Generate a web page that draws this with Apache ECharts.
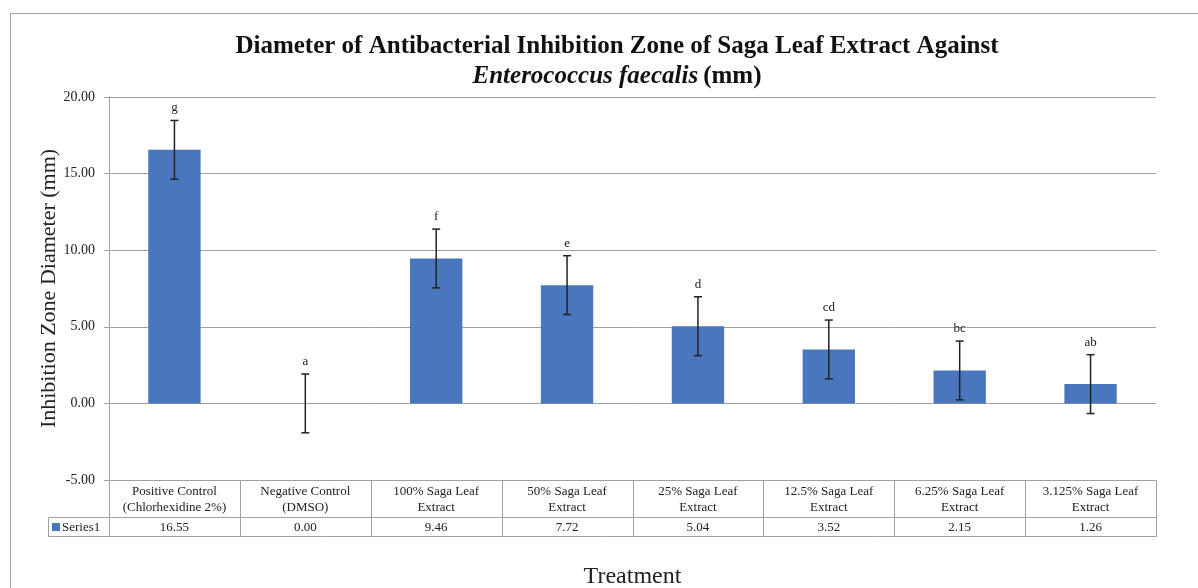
<!DOCTYPE html>
<html>
<head>
<meta charset="utf-8">
<style>
html, body { margin: 0; padding: 0; background: #fff; }
#chart { width: 1198px; height: 588px; }
</style>
<script src="https://cdn.jsdelivr.net/npm/echarts@6/dist/echarts.min.js"></script>
</head>
<body>
<div id="chart"></div>
<script>
// treatments (table header, two lines each)
var categories = [
    'Positive Control\n(Chlorhexidine 2%)',
    'Negative Control\n(DMSO)',
    '100% Saga Leaf\nExtract',
    '50% Saga Leaf\nExtract',
    '25% Saga Leaf\nExtract',
    '12.5% Saga Leaf\nExtract',
    '6.25% Saga Leaf\nExtract',
    '3.125% Saga Leaf\nExtract'
];
var means = [16.55, 0.00, 9.46, 7.72, 5.04, 3.52, 2.15, 1.26];
var errors = [1.92, 1.92, 1.92, 1.92, 1.92, 1.92, 1.92, 1.92];
var letters = ['g', 'a', 'f', 'e', 'd', 'cd', 'bc', 'ab'];
var seriesName = 'Series1';

var serif = '"Liberation Serif", "Times New Roman", serif';
var barColor = '#4a76bd';
var lineColor = '#a0a0a0';

var chart = echarts.init(document.getElementById('chart'));

var errData = means.map(function (m, i) { return [i, m - errors[i], m + errors[i], letters[i]]; });

chart.setOption({
    animation: false,
    title: {
        text: '{b|Diameter of Antibacterial Inhibition Zone of Saga Leaf Extract Against}\n{i|Enterococcus faecalis} {b|(mm)}',
        left: 612,
        textAlign: 'center',
        top: 27,
        textStyle: {
            rich: {
                b: { fontFamily: serif, fontSize: 25, fontWeight: 'bold', color: '#111', lineHeight: 30 },
                i: { fontFamily: serif, fontSize: 25, fontWeight: 'bold', fontStyle: 'italic', color: '#111', lineHeight: 30 }
            }
        }
    },
    grid: { left: 109, right: 42, top: 97, bottom: 108, outerBoundsMode: 'none' },
    xAxis: {
        type: 'category',
        data: categories,
        position: 'bottom',
        axisLine: { show: false },
        axisTick: { show: false },
        axisLabel: { show: false },
        name: 'Treatment',
        nameLocation: 'middle',
        nameGap: 85,
        nameMoveOverlap: false,
        nameTextStyle: { fontFamily: serif, fontSize: 24, color: '#222' }
    },
    yAxis: {
        type: 'value',
        min: -5,
        max: 20,
        interval: 5,
        axisLine: { show: true, lineStyle: { color: lineColor } },
        axisTick: { show: true, length: 5, lineStyle: { color: lineColor } },
        axisLabel: {
            formatter: function (v) { return v.toFixed(2); },
            fontFamily: serif, fontSize: 14, color: '#222', margin: 14
        },
        splitLine: { lineStyle: { color: lineColor, width: 1 } },
        name: 'Inhibition Zone Diameter (mm)',
        nameLocation: 'middle',
        nameGap: 49,
        nameMoveOverlap: false,
        nameTextStyle: { fontFamily: serif, fontSize: 22, color: '#222' }
    },
    series: [
        {
            name: seriesName,
            type: 'bar',
            data: means,
            barWidth: '40%',
            itemStyle: { color: barColor }
        },
        {
            type: 'custom',
            data: errData,
            z: 10,
            renderItem: function (params, api) {
                var i = api.value(0);
                var lo = api.coord([i, api.value(1)]);
                var hi = api.coord([i, api.value(2)]);
                var x = lo[0];
                var cap = 4;
                var style = { stroke: '#222', lineWidth: 1.5 };
                return {
                    type: 'group',
                    children: [
                        { type: 'line', shape: { x1: x, y1: lo[1], x2: x, y2: hi[1] }, style: style },
                        { type: 'line', shape: { x1: x - cap, y1: lo[1], x2: x + cap, y2: lo[1] }, style: style },
                        { type: 'line', shape: { x1: x - cap, y1: hi[1], x2: x + cap, y2: hi[1] }, style: style },
                        { type: 'text', style: {
                            text: letters[i], x: x, y: hi[1] - 6,
                            textAlign: 'center', textVerticalAlign: 'bottom',
                            font: '13px ' + serif, fill: '#222'
                        } }
                    ]
                };
            }
        }
    ]
});

// data table under the plot, laid out from the axis scale
function drawTable() {
    var graphics = [];
    var top = chart.convertToPixel({ yAxisIndex: 0 }, -5);
    var axisX = chart.convertToPixel({ xAxisIndex: 0 }, 0);
    var c1 = chart.convertToPixel({ xAxisIndex: 0 }, 1);
    var step = c1 - axisX;
    var left = axisX - step / 2;
    var right = left + step * categories.length;
    var headH = 37, rowH = 19;
    var keyLeft = 48;
    var border = { stroke: lineColor, lineWidth: 1, fill: null };

    // outer frame of whole chart
    graphics.push({ type: 'rect', shape: { x: 10.5, y: 13.5, width: 1200, height: 600 }, style: { stroke: lineColor, fill: null, lineWidth: 1 }, silent: true });

    // header row + value row
    graphics.push({ type: 'rect', shape: { x: left + 0.5, y: top + 0.5, width: right - left, height: headH }, style: border });
    graphics.push({ type: 'rect', shape: { x: keyLeft + 0.5, y: top + headH + 0.5, width: right - keyLeft, height: rowH }, style: border });

    categories.forEach(function (name, i) {
        var cx = chart.convertToPixel({ xAxisIndex: 0 }, i);
        var x0 = Math.round(cx + step / 2) + 0.5;
        if (i < categories.length - 1) {
            graphics.push({ type: 'line', shape: { x1: x0, y1: top, x2: x0, y2: top + headH + rowH }, style: { stroke: lineColor, lineWidth: 1 } });
        }
        graphics.push({ type: 'text', style: {
            text: name, x: cx, y: top + headH / 2 + 1, textAlign: 'center', textVerticalAlign: 'middle',
            font: '13px ' + serif, fill: '#222', lineHeight: 16
        } });
        graphics.push({ type: 'text', style: {
            text: means[i].toFixed(2), x: cx, y: top + headH + rowH / 2 + 1, textAlign: 'center', textVerticalAlign: 'middle',
            font: '13px ' + serif, fill: '#222'
        } });
    });
    graphics.push({ type: 'line', shape: { x1: Math.round(left) + 0.5, y1: top + headH, x2: Math.round(left) + 0.5, y2: top + headH + rowH }, style: { stroke: lineColor, lineWidth: 1 } });
    // legend key
    graphics.push({ type: 'rect', shape: { x: keyLeft + 4, y: top + headH + 6, width: 8, height: 8 }, style: { fill: barColor } });
    graphics.push({ type: 'text', style: {
        text: seriesName, x: keyLeft + 14, y: top + headH + rowH / 2 + 1, textAlign: 'left', textVerticalAlign: 'middle',
        font: '13px ' + serif, fill: '#222'
    } });

    chart.setOption({ graphic: graphics });
}
drawTable();
</script>
</body>
</html>
